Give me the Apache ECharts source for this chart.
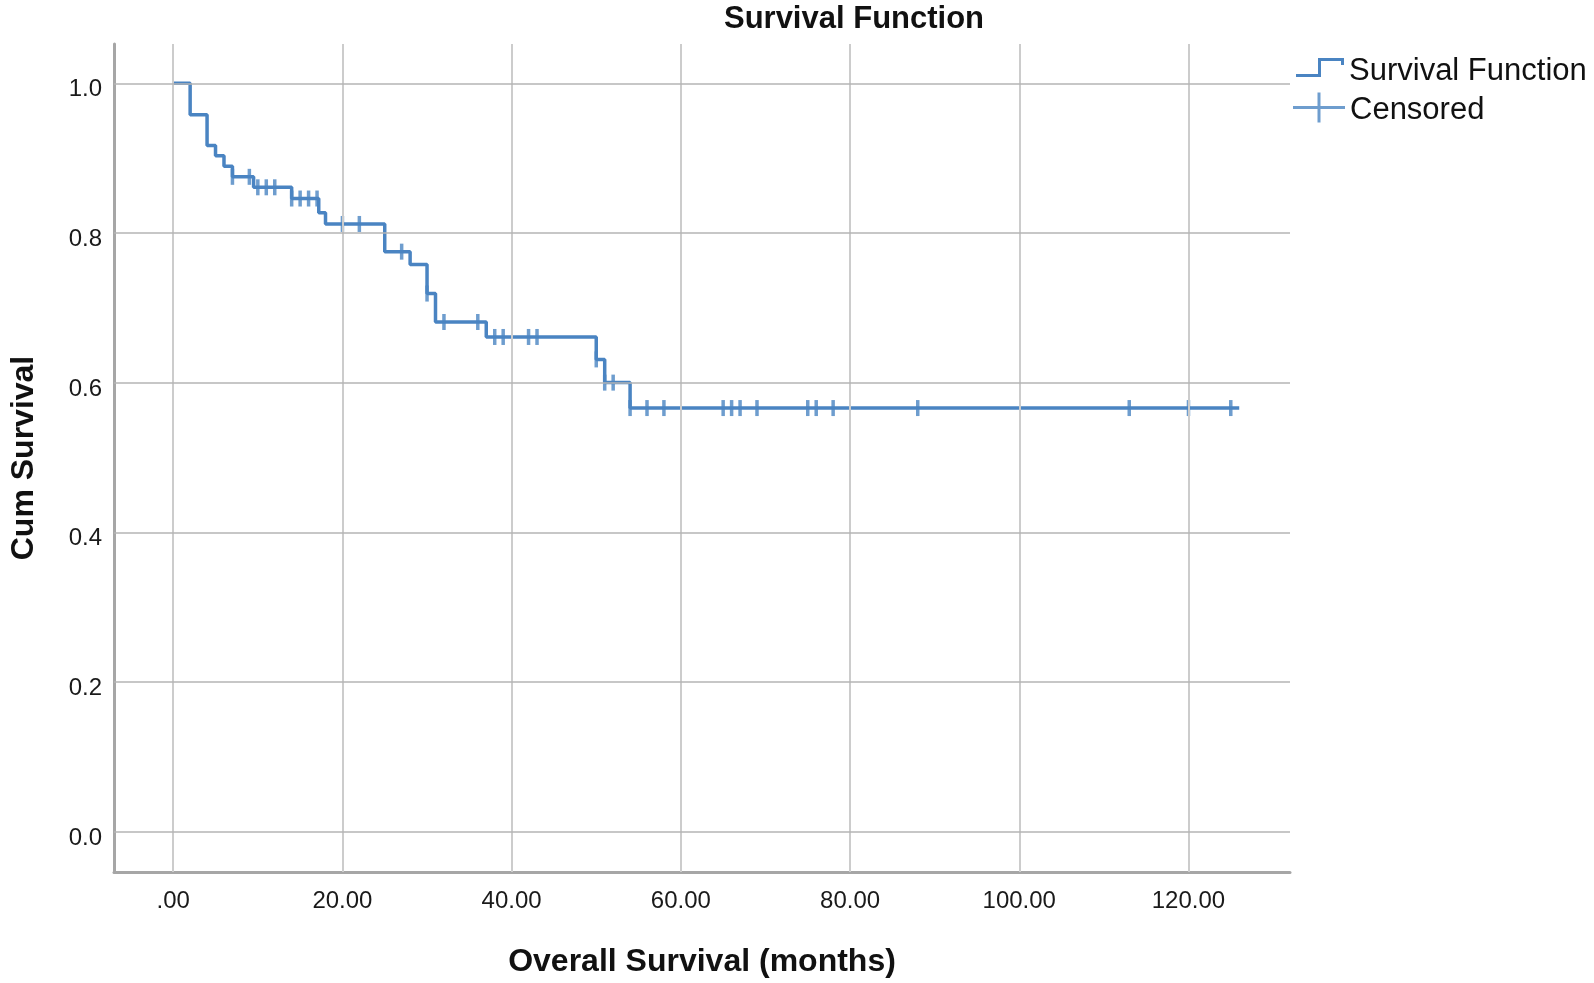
<!DOCTYPE html>
<html>
<head>
<meta charset="utf-8">
<script src="https://cdn.jsdelivr.net/npm/echarts@6/dist/echarts.min.js"></script>
<style>
html,body{margin:0;padding:0;background:#fff;}
#chart{width:1594px;height:983px;}
</style>
</head>
<body>
<div id="chart"></div>
<script>
// Kaplan-Meier step curve: time of each drop and survival after it
const eventTimes = [0, 2, 4, 5, 6, 7, 9.5, 14, 17.2, 18, 25, 28, 30, 31, 37, 50, 51, 54, 126];
const survival   = [1.0, 0.958, 0.917, 0.903, 0.889, 0.875, 0.861, 0.846, 0.827, 0.812, 0.775, 0.758, 0.719, 0.681, 0.661, 0.631, 0.600, 0.566, 0.566];

// Censored observations
const censoredTimes    = [7, 9, 10, 11, 12, 14, 15, 16, 17, 20, 22, 27, 30, 32, 36, 38, 39, 42, 43, 50, 51, 52, 54, 56, 58, 65, 66, 67, 69, 75, 76, 78, 88, 113, 120, 125];
const censoredSurvival = [0.875, 0.875, 0.861, 0.861, 0.861, 0.846, 0.846, 0.846, 0.846, 0.812, 0.812, 0.775, 0.719, 0.681, 0.681, 0.661, 0.661, 0.661, 0.661, 0.631, 0.600, 0.600, 0.566, 0.566, 0.566, 0.566, 0.566, 0.566, 0.566, 0.566, 0.566, 0.566, 0.566, 0.566, 0.566, 0.566];

// Axis ticks
const xTicks = [0, 20, 40, 60, 80, 100, 120];
const yTicks = [0, 0.2, 0.4, 0.6, 0.8, 1.0];

const FONT = "'Liberation Sans', Arial, sans-serif";
const BLUE = '#4a84c2';

const chart = echarts.init(document.getElementById('chart'), null, {renderer: 'canvas'});

const curveData = eventTimes.map((t, i) => [t, survival[i]]);
const censData = censoredTimes.map((t, i) => [t, censoredSurvival[i]]);

const gridLines = [];
xTicks.forEach(v => gridLines.push({xAxis: v, lineStyle: {color: '#cccccc', width: 2, type: 'solid'}}));
yTicks.forEach(v => gridLines.push({yAxis: v, lineStyle: {color: '#b5b5b5', width: 1.6, type: 'solid'}}));

const option = {
  animation: false,
  backgroundColor: '#ffffff',
  title: {
    text: 'Survival Function',
    left: 849,
    top: -3,
    textAlign: 'center',
    textStyle: {fontFamily: FONT, fontWeight: 'bold', fontSize: 31, lineHeight: 34, color: '#111'}
  },
  legend: [
    {
      data: ['Survival Function'],
      left: 1291,
      top: 43,
      itemWidth: 48,
      itemHeight: 19,
      icon: 'path://M0,16 L22,16 L22,0 L48,0 L48,7 L45,7 L45,3 L25,3 L25,19 L0,19 Z',
      formatter: name => '\n' + name,
      textStyle: {fontFamily: FONT, fontSize: 31, lineHeight: 8, color: '#111'},
      selectedMode: false
    },
    {
      data: ['Censored'],
      left: 1288,
      top: 84,
      itemWidth: 52,
      itemHeight: 30,
      icon: 'path://M0,13.5 L24.5,13.5 L24.5,0 L27.5,0 L27.5,13.5 L52,13.5 L52,16.5 L27.5,16.5 L27.5,30 L24.5,30 L24.5,16.5 L0,16.5 Z',
      formatter: name => '\n' + name,
      textStyle: {fontFamily: FONT, fontSize: 31, lineHeight: 6, color: '#111'},
      selectedMode: false
    }
  ],
  grid: {left: 111, right: 304, top: 44, bottom: 111, containLabel: false},
  xAxis: {
    type: 'value',
    min: -7,
    max: 132,
    name: 'Overall Survival (months)',
    nameLocation: 'middle',
    nameGap: 74,
    nameTextStyle: {fontFamily: FONT, fontWeight: 'bold', fontSize: 32, color: '#111'},
    axisLine: {show: true, onZero: false, lineStyle: {color: '#a6a6a6', width: 3}},
    axisTick: {show: false, customValues: xTicks},
    splitLine: {show: false},
    axisLabel: {
      customValues: xTicks,
      margin: 17,
      fontFamily: FONT, fontSize: 24, color: '#1a1a1a',
      formatter: v => (v === 0 ? '.00' : Number(v).toFixed(2))
    }
  },
  yAxis: {
    type: 'value',
    min: -0.054,
    max: 1.0525,
    name: 'Cum Survival',
    nameLocation: 'middle',
    nameGap: 74,
    nameRotate: 90,
    nameTextStyle: {fontFamily: FONT, fontWeight: 'bold', fontSize: 32, color: '#111'},
    axisLine: {show: true, onZero: false, lineStyle: {color: '#a6a6a6', width: 3}},
    axisTick: {show: false, customValues: yTicks},
    splitLine: {show: false},
    axisLabel: {
      customValues: yTicks,
      margin: 12,
      fontFamily: FONT, fontSize: 24, color: '#1a1a1a',
      lineHeight: 13,
      formatter: v => '\n' + Number(v).toFixed(1)
    }
  },
  series: [
    {
      name: 'grid',
      type: 'scatter',
      data: [],
      z: 1,
      silent: true,
      markLine: {
        silent: true,
        symbol: ['none', 'none'],
        label: {show: false},
        emphasis: {disabled: true},
        data: gridLines
      }
    },
    {
      name: 'Survival Function',
      type: 'line',
      step: 'end',
      data: curveData,
      showSymbol: false,
      symbol: 'none',
      z: 3,
      itemStyle: {color: BLUE},
      lineStyle: {color: BLUE, width: 3.5}
    },
    {
      name: 'Censored',
      type: 'scatter',
      data: censData,
      symbol: 'rect',
      symbolSize: [3.5, 16],
      z: 4,
      itemStyle: {color: BLUE}
    }
  ]
};
chart.setOption(option);
</script>
</body>
</html>
